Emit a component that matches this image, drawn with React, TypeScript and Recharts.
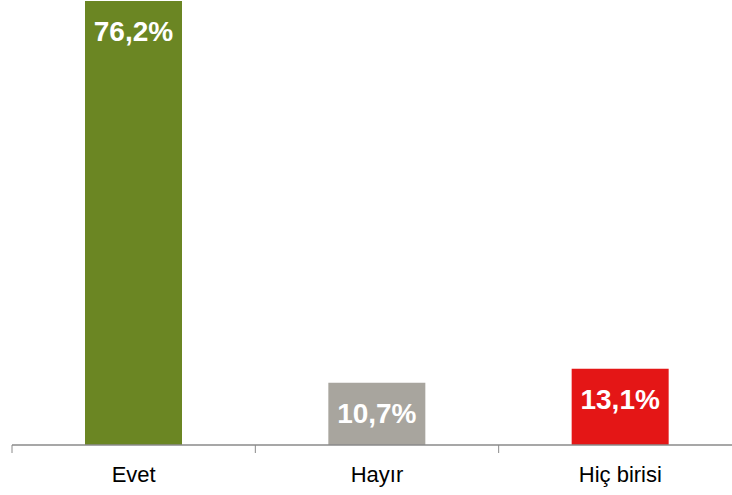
import React from 'react';
import { BarChart, Bar, XAxis, YAxis, Cell, LabelList } from 'recharts';

const CATEGORIES = ['Evet', 'Hayır', 'Hiç birisi'];
const VALUES = [76.2, 10.7, 13.1];
const LABELS = ['76,2%', '10,7%', '13,1%'];
const COLORS = ['#6b8623', '#a8a59e', '#e41616'];

const data = CATEGORIES.map((name, i) => ({ name, value: VALUES[i], label: LABELS[i] }));

const AXIS_COLOR = '#8a8a8a';

/**
 * Category label at the band centre, tick mark at the band boundary
 */
const BoundaryTick = (props: any) => {
    const { x, y, payload } = props;
    const half = payload && payload.offset ? payload.offset : 0;
    return (
        <g>
            <line x1={x - half} y1={y - 21} x2={x - half} y2={y - 13} stroke={AXIS_COLOR} strokeWidth={1} />
            <text
                x={x}
                y={y}
                dy={15.6}
                textAnchor="middle"
                fontFamily="'Liberation Sans', Arial, sans-serif"
                fontSize={22}
                fill="#000"
            >
                {payload.value}
            </text>
        </g>
    );
};

const ValueLabel = (props: any) => {
    const { x, y, width, value } = props;
    return (
        <text
            x={x + width / 2}
            y={y + 40}
            textAnchor="middle"
            fontFamily="'Liberation Sans', Arial, sans-serif"
            fontWeight="bold"
            fontSize={28}
            fill="#fff"
        >
            {value}
        </text>
    );
};

export default function App() {
    return (
        <div style={{ position: 'absolute', left: 0, top: 0, width: 732, height: 495, overflow: 'hidden', background: '#fff' }}>
            <BarChart
                width={742}
                height={495}
                data={data}
                margin={{ top: 1, right: 0, bottom: 0, left: 12 }}
                barCategoryGap="30%"
            >
                <XAxis
                    dataKey="name"
                    height={50}
                    axisLine={{ stroke: AXIS_COLOR, strokeWidth: 1.5 }}
                    tickLine={false}
                    tickSize={8}
                    tickMargin={13}
                    tick={<BoundaryTick />}
                    interval={0}
                />
                <YAxis hide domain={[0, 76.2]} />
                <Bar dataKey="value" isAnimationActive={false}>
                    {data.map((entry, index) => (
                        <Cell key={`cell-${index}`} fill={COLORS[index % COLORS.length]} name={entry.name} />
                    ))}
                    <LabelList dataKey="label" content={<ValueLabel />} />
                </Bar>
            </BarChart>
        </div>
    );
}
